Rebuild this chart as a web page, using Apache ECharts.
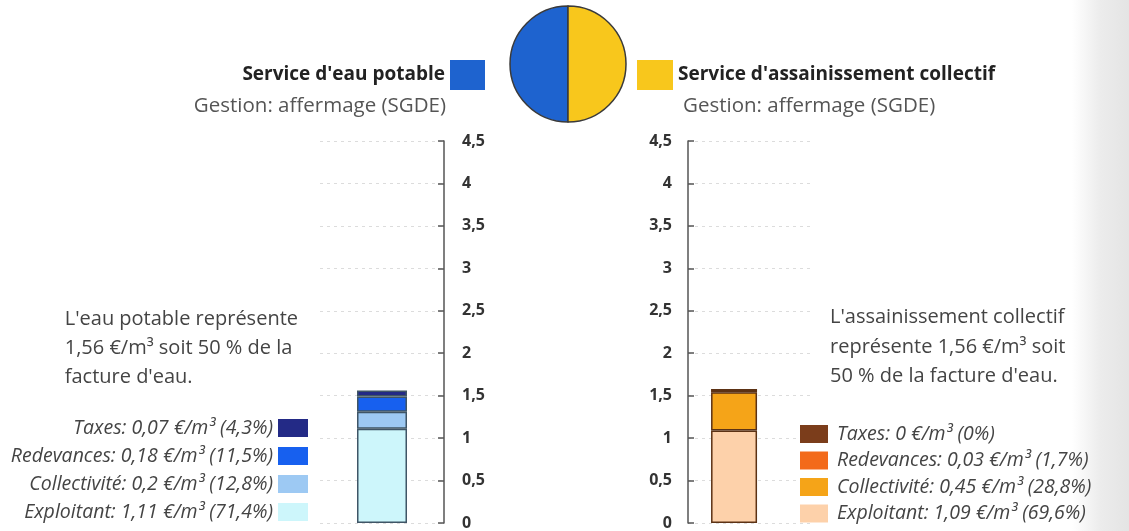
<!DOCTYPE html>
<html>
<head>
<meta charset="utf-8">
<script src="https://cdn.jsdelivr.net/npm/echarts@6/dist/echarts.min.js"></script>
<style>
    html, body { margin: 0; padding: 0; }
    #main {
        width: 1129px; height: 531px;
        background: linear-gradient(to right, #ffffff 0px, #ffffff 1072px, #ececec 1100px, #e4e4e4 1129px);
    }
</style>
</head>
<body>
<div id="main"></div>
<script>
const composantes = ['Exploitant', 'Collectivité', 'Redevances', 'Taxes']
const eauValeurs = [1.11, 0.2, 0.18, 0.07]
const eauParts = ['71,4', '12,8', '11,5', '4,3']
const assValeurs = [1.09, 0.45, 0.03, 0]
const assParts = ['69,6', '28,8', '1,7', '0']
const services = ["Service d'eau potable", "Service d'assainissement collectif"]
const totaux = [1.56, 1.56]

const eauCouleurs = ['#cdf6fb', '#9dc9f3', '#1760ef', '#232a86']
const assCouleurs = ['#fdd1aa', '#f5a418', '#f36a1a', '#7b3d1b']
const font = '"Open Sans"'

const num = v => String(v).replace('.', ',')
const eauNoms = composantes.map((c, i) => c + ': ' + num(eauValeurs[i]) + ' €/m³ (' + eauParts[i] + '%)')
const assNoms = composantes.map((c, i) => c + ': ' + num(assValeurs[i]) + ' €/m³ (' + assParts[i] + '%)')

function yAxis(grid, position) {
    return {
        type: 'value',
        gridIndex: grid,
        position: position,
        min: 0,
        max: 4.5,
        interval: 0.5,
        axisLine: { show: true, lineStyle: { color: '#555', width: 1.5 } },
        axisTick: { show: true, inside: true, length: 6, lineStyle: { color: '#555', width: 1.5 } },
        axisLabel: {
            color: '#333',
            fontFamily: font,
            fontSize: 16,
            fontWeight: 'bold',
            margin: position === 'right' ? 18 : 16,
            formatter: v => num(v)
        },
        splitLine: { lineStyle: { color: '#dcdcdc', type: [3, 4] } }
    }
}

const series = []
composantes.forEach((c, i) => {
    series.push({
        name: eauNoms[i],
        type: 'bar',
        stack: 'eau',
        xAxisIndex: 0,
        yAxisIndex: 0,
        barWidth: 50,
        data: [eauValeurs[i]],
        itemStyle: { color: eauCouleurs[i], borderColor: '#3f5566', borderWidth: 1.5 },
        silent: true
    })
})
composantes.forEach((c, i) => {
    series.push({
        name: assNoms[i],
        type: 'bar',
        stack: 'ass',
        xAxisIndex: 1,
        yAxisIndex: 1,
        barWidth: 46,
        barGap: '-35%',
        data: [assValeurs[i]],
        itemStyle: { color: assCouleurs[i], borderColor: '#5c3214', borderWidth: 1.5 },
        silent: true
    })
})
// empty stack, only there to push the sanitation bar left of the band centre
series.push({
    name: 'vide',
    type: 'bar',
    stack: 'vide',
    xAxisIndex: 1,
    yAxisIndex: 1,
    barWidth: 46,
    barGap: '-35%',
    data: [],
    silent: true
})
series.push({
    type: 'pie',
    center: [568, 64],
    radius: 58,
    startAngle: 90,
    clockwise: false,
    silent: true,
    label: { show: false },
    labelLine: { show: false },
    itemStyle: { borderColor: '#3a3a3a', borderWidth: 1.5 },
    data: services.map((s, i) => ({
        name: s,
        value: totaux[i],
        itemStyle: { color: i === 0 ? '#1e63cf' : '#f8c71c' }
    }))
})

const legendText = { fontFamily: font, fontStyle: 'italic', fontSize: 19.5, lineHeight: 18, color: '#444' }
const titleText = { fontFamily: font, fontWeight: 'bold', fontSize: 19, color: '#222' }

const option = {
    animation: false,
    grid: [
        { left: 320, right: 685, top: 141, bottom: 7 },
        { left: 688, right: 319, top: 141, bottom: 7 }
    ],
    xAxis: [
        { type: 'category', gridIndex: 0, data: [''], show: false },
        { type: 'category', gridIndex: 1, data: [''], show: false }
    ],
    yAxis: [yAxis(0, 'right'), yAxis(1, 'left')],
    legend: [
        {
            data: eauNoms.slice().reverse(),
            orient: 'vertical',
            align: 'right',
            right: 821,
            top: 418,
            padding: 0,
            itemWidth: 30,
            itemHeight: 18,
            itemGap: 8,
            icon: 'rect',
            selectedMode: false,
            itemStyle: { borderWidth: 0 },
            textStyle: legendText
        },
        {
            data: assNoms.slice().reverse(),
            orient: 'vertical',
            align: 'left',
            left: 800,
            top: 424,
            padding: 0,
            itemWidth: 28,
            itemHeight: 18,
            itemGap: 6.5,
            icon: 'rect',
            selectedMode: false,
            itemStyle: { borderWidth: 0 },
            textStyle: Object.assign({ padding: [0, 0, 0, 4] }, legendText)
        },
        {
            data: [services[0]],
            align: 'right',
            right: 644,
            top: 60,
            padding: 0,
            itemWidth: 35,
            itemHeight: 30,
            icon: 'rect',
            selectedMode: false,
            itemStyle: { borderWidth: 0 },
            textStyle: titleText
        },
        {
            data: [services[1]],
            align: 'left',
            left: 637,
            top: 60,
            padding: 0,
            itemWidth: 36,
            itemHeight: 30,
            icon: 'rect',
            selectedMode: false,
            itemStyle: { borderWidth: 0 },
            textStyle: titleText
        }
    ],
    graphic: [
        {
            type: 'text', right: 683, top: 96,
            style: { text: 'Gestion: affermage (SGDE)', font: '20.5px ' + font, fill: '#555' }
        },
        {
            type: 'text', left: 683, top: 96,
            style: { text: 'Gestion: affermage (SGDE)', font: '20.5px ' + font, fill: '#555' }
        },
        {
            type: 'text', right: 831, top: 305,
            style: {
                text: "L'eau potable représente\n1,56 €/m³ soit 50 % de la\nfacture d'eau.",
                font: '20px ' + font, fill: '#444', align: 'right', lineHeight: 29
            }
        },
        {
            type: 'text', left: 830, top: 303,
            style: {
                text: "L'assainissement collectif\nreprésente 1,56 €/m³ soit\n50 % de la facture d'eau.",
                font: '20px ' + font, fill: '#444', lineHeight: 29.5
            }
        }
    ],
    series: series
}

const myChart = echarts.init(document.getElementById('main'))
myChart.setOption(option)
</script>
</body>
</html>
